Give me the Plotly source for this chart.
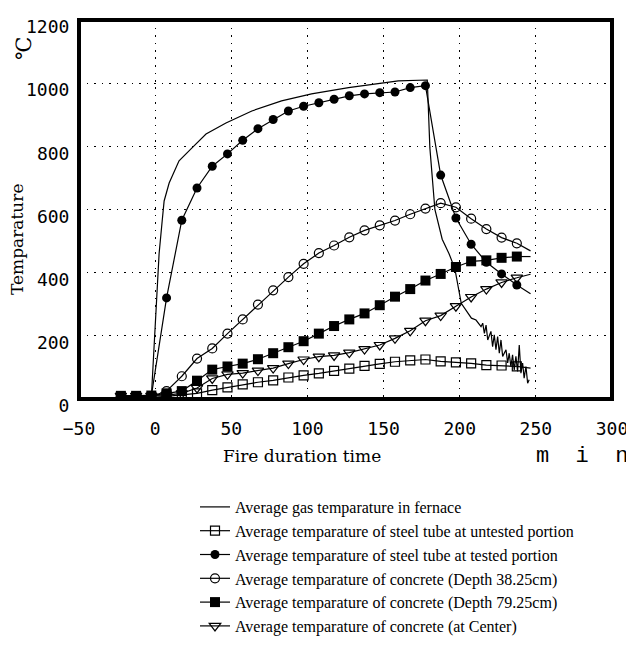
import plotly.graph_objects as go

# ---- data ----
times = [-22.5, -12.5, -2.5, 7.5, 17.5, 27.5, 37.5, 47.5, 57.5, 67.5, 77.5, 87.5,
         97.5, 107.5, 117.5, 127.5, 137.5, 147.5, 157.5, 167.5, 177.5, 187.5,
         197.5, 207.5, 217.5, 227.5, 237.5]

steel_untested = [5, 5, 5, 8, 12, 18, 28, 37, 46, 53, 59, 68, 75, 81, 89, 96, 105,
                  111, 118, 122, 125, 119, 116, 113, 107, 106, 103]
steel_tested = [10, 10, 10, 320, 566, 668, 737, 776, 819, 856, 885, 912, 927, 938,
                949, 960, 966, 970, 972, 986, 992, 709, 573, 490, 433, 396, 361]
concrete_38 = [8, 8, 8, 25, 72, 128, 160, 207, 252, 299, 344, 386, 428, 462, 486,
               512, 534, 550, 565, 585, 603, 620, 607, 571, 538, 511, 493]
concrete_79 = [10, 10, 11, 18, 25, 58, 93, 103, 112, 126, 145, 164, 183, 207, 231,
               252, 271, 297, 324, 348, 375, 396, 418, 436, 439, 447, 451]
concrete_center = [10, 10, 10, 12, 18, 35, 65, 78, 82, 90, 98, 112, 125, 134, 138,
                   147, 158, 171, 192, 216, 248, 264, 294, 323, 348, 369, 384]

# line tails after the last marker
tail_time = 246.5
tail_values = {"untested": 98, "tested": 333, "c38": 469, "c79": 451, "center": 395}

gas_time = [-2.5, -1.3, 0.5, 2.6, 4.6, 5.9, 9.2, 15.7, 24.2, 33.4, 46.5, 63.5, 83,
            102.7, 127, 159.7, 178.7, 180.4, 183.7, 188.5, 193, 196.8, 201, 207.7,
            210.7, 214, 215.1, 216.2, 217.3, 218.4, 220.5, 221.6, 222.7, 223.8,
            224.9, 226, 227.1, 228.2, 230.4, 231.5, 232.5, 233.6, 234.7, 235.8,
            236.9, 238, 239.1, 240.2, 241.3, 242.3, 243.5, 244.6, 245.6]
gas_temp = [5, 121, 280, 460, 563, 627, 684, 754, 795, 839, 874, 912, 944, 966,
            986, 1007, 1010, 795, 600, 506, 460, 413, 303, 256, 250, 229, 240, 208,
            234, 187, 214, 166, 203, 156, 198, 145, 187, 135, 156, 114, 145, 103,
            140, 92, 135, 87, 171, 82, 114, 66, 103, 50, 61]

x_ticks = [-50, 0, 50, 100, 150, 200, 250, 300]
y_ticks = [0, 200, 400, 600, 800, 1000, 1200]

names = {
    "gas": "Average gas temparature in fernace",
    "untested": "Average temparature of steel tube at untested portion",
    "tested": "Average temparature of steel tube at tested portion",
    "c38": "Average temparature of concrete (Depth 38.25cm)",
    "c79": "Average temparature of concrete (Depth 79.25cm)",
    "center": "Average temparature of concrete (at Center)",
}

fig = go.Figure()
LW = 1.2

fig.add_trace(go.Scatter(x=gas_time, y=gas_temp, mode="lines", name=names["gas"],
                         line=dict(color="black", width=LW)))

series = [
    ("untested", steel_untested, dict(symbol="square-open", size=9, color="black", line=dict(width=1.2, color="black"))),
    ("tested", steel_tested, dict(symbol="circle", size=9, color="black")),
    ("c38", concrete_38, dict(symbol="circle-open", size=9, color="black", line=dict(width=1.2, color="black"))),
    ("c79", concrete_79, dict(symbol="square", size=10, color="black")),
    ("center", concrete_center, dict(symbol="triangle-down-open", size=10, color="black", line=dict(width=1.2, color="black"))),
]

for key, vals, mk in series:
    fig.add_trace(go.Scatter(x=[times[-1], tail_time], y=[vals[-1], tail_values[key]],
                             mode="lines", showlegend=False, hoverinfo="skip",
                             line=dict(color="black", width=LW)))
    fig.add_trace(go.Scatter(x=times, y=vals, mode="lines+markers", name=names[key],
                             line=dict(color="black", width=LW), marker=mk))

axis_common = dict(
    showgrid=True, gridcolor="black", gridwidth=1.4, griddash="1.5px,6px",
    showline=False, zeroline=False, automargin=False,
    ticks="outside", tickcolor="rgba(0,0,0,0)",
    tickfont=dict(family="DejaVu Sans Mono", size=18, color="black"),
)

fig.update_xaxes(range=[-50, 300], tickvals=x_ticks, ticklen=13, **axis_common)
fig.update_yaxes(range=[0, 1200], tickvals=y_ticks, ticklen=5,
                 ticklabelshift=7, **axis_common)

serif = "Liberation Serif"
wide_serif = "DejaVu Serif"
fig.update_layout(
    width=634, height=652,
    margin=dict(l=71, r=30, t=12, b=261, autoexpand=False),
    paper_bgcolor="white", plot_bgcolor="white",
    showlegend=True,
    legend=dict(xref="container", yref="container", x=187 / 634, y=1 - 482 / 652,
                xanchor="left", yanchor="top", bgcolor="rgba(0,0,0,0)",
                font=dict(family=serif, size=16, color="black"),
                itemwidth=30, tracegroupgap=0),
    shapes=[dict(type="rect", xref="paper", yref="paper", x0=0, x1=1, y0=0, y1=1,
                 line=dict(color="black", width=4), layer="between")],
    annotations=[
        dict(text="Temparature", xref="paper", yref="paper", x=(17 - 79) / 533,
             y=(399 - 240) / 379, showarrow=False, textangle=-90,
             xanchor="center", yanchor="middle",
             font=dict(family=wide_serif, size=17, color="black")),
        dict(text="℃", xref="paper", yref="paper", x=(24 - 79) / 533,
             y=(399 - 48) / 379, showarrow=False, textangle=-90,
             xanchor="center", yanchor="middle",
             font=dict(family=wide_serif, size=21, color="black")),
        dict(text="Fire duration time", xref="paper", yref="paper", x=(302 - 79) / 533,
             y=(399 - 456) / 379, showarrow=False,
             xanchor="center", yanchor="middle",
             font=dict(family=wide_serif, size=17, color="black")),
        dict(text="m\u00a0\u00a0i\u00a0\u00a0n", xref="paper", yref="paper",
             x=(582 - 79) / 533, y=(399 - 456) / 379, showarrow=False,
             xanchor="center", yanchor="middle",
             font=dict(family="Liberation Mono", size=22, color="black")),
    ],
)

fig.write_html("out.html")
